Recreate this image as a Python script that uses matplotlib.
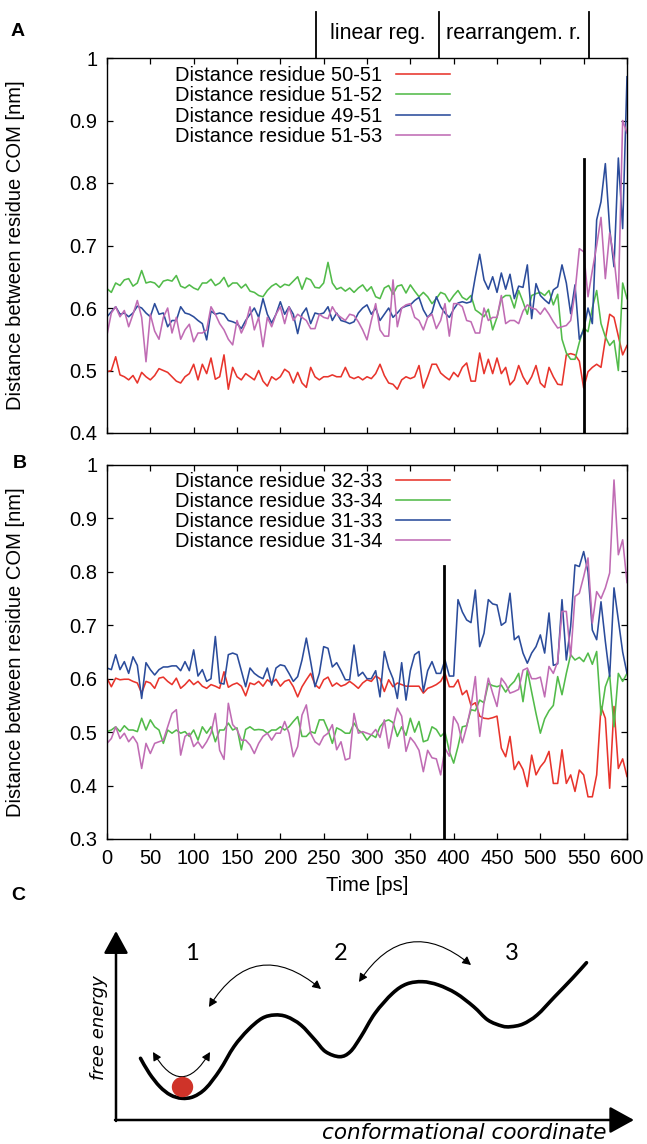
import numpy as np
import matplotlib
matplotlib.use("Agg")
import matplotlib.pyplot as plt
from matplotlib.patches import FancyArrowPatch, Ellipse, PathPatch
from matplotlib.path import Path

plt.rcParams['font.family'] = ['Liberation Sans', 'DejaVu Sans']

# ---------------- data ----------------
time_ps = np.arange(0, 601, 5)

labels_a = ["Distance residue 50-51", "Distance residue 51-52",
            "Distance residue 49-51", "Distance residue 51-53"]
labels_b = ["Distance residue 32-33", "Distance residue 33-34",
            "Distance residue 31-33", "Distance residue 31-34"]

a_50_51 = [0.498,0.50,0.522,0.493,0.49,0.485,0.492,0.48,0.497,0.49,
           0.485,0.492,0.503,0.50,0.497,0.49,0.483,0.48,0.49,0.495,
           0.51,0.485,0.51,0.495,0.52,0.486,0.49,0.525,0.47,0.505,
           0.49,0.485,0.495,0.49,0.485,0.50,0.483,0.475,0.49,0.485,
           0.49,0.502,0.497,0.48,0.497,0.48,0.473,0.505,0.49,0.485,
           0.49,0.49,0.493,0.49,0.49,0.505,0.49,0.487,0.49,0.485,
           0.49,
           0.487,0.495,0.51,0.492,0.48,0.478,0.47,0.485,0.49,0.487,
           0.49,0.508,0.472,0.49,0.51,0.51,0.496,0.49,0.485,0.497,
           0.49,0.505,0.512,0.483,0.483,0.528,0.495,0.518,0.495,0.52,
           0.495,0.505,0.477,0.485,0.508,0.49,0.478,0.49,0.508,0.48,
           0.473,0.505,0.49,0.478,0.477,0.525,0.527,0.525,0.515,0.472,
           0.498,0.505,0.51,0.505,0.55,0.59,0.585,0.555,0.525,0.54]
a_51_52 = [0.631,0.625,0.64,0.636,0.645,0.647,0.635,0.64,0.66,0.64,
           0.642,0.64,0.633,0.643,0.645,0.643,0.652,0.635,0.632,0.637,
           0.632,0.629,0.64,0.64,0.646,0.636,0.64,0.649,0.634,0.64,
           0.64,0.632,0.638,0.627,0.625,0.62,0.618,0.628,0.635,0.639,
           0.633,0.638,0.636,0.643,0.65,0.63,0.648,0.645,0.633,0.632,
           0.64,0.673,0.64,0.63,0.633,0.627,0.632,0.625,0.632,0.637,
           0.627,
           0.634,0.618,0.615,0.632,0.636,0.622,0.635,0.637,0.624,0.637,
           0.627,0.618,0.625,0.618,0.607,0.615,0.625,0.622,0.61,0.62,
           0.628,0.617,0.613,0.62,0.597,0.592,0.586,0.598,0.565,0.585,
           0.615,0.62,0.62,0.6,0.628,0.61,0.59,0.62,0.623,0.625,
           0.62,0.628,0.605,0.622,0.55,0.528,0.518,0.518,0.545,0.568,
           0.562,0.6,0.628,0.575,0.554,0.54,0.548,0.5,0.64,0.615]
a_49_51 = [0.586,0.594,0.602,0.59,0.592,0.586,0.592,0.603,0.6,0.592,
           0.586,0.607,0.59,0.592,0.57,0.58,0.58,0.602,0.592,0.59,
           0.586,0.58,0.575,0.549,0.595,0.59,0.592,0.59,0.58,0.578,
           0.575,0.567,0.58,0.59,0.6,0.585,0.615,0.59,0.576,0.59,
           0.61,0.59,0.602,0.59,0.559,0.59,0.6,0.575,0.592,0.59,
           0.592,0.602,0.58,0.592,0.58,0.578,0.575,0.578,0.592,0.6,
           0.605,
           0.59,0.60,0.58,0.59,0.60,0.585,0.592,0.60,0.603,0.605,
           0.612,0.617,0.597,0.585,0.593,0.618,0.602,0.592,0.585,0.598,
           0.608,0.61,0.608,0.61,0.65,0.686,0.645,0.63,0.65,0.625,
           0.656,0.63,0.654,0.615,0.635,0.633,0.669,0.583,0.639,0.62,
           0.613,0.607,0.629,0.634,0.669,0.64,0.591,0.637,0.55,0.565,
           0.6,0.575,0.741,0.77,0.831,0.727,0.666,0.84,0.727,0.97]
a_51_53 = [0.557,0.592,0.602,0.586,0.596,0.57,0.59,0.612,0.585,0.514,
           0.59,0.563,0.55,0.585,0.6,0.56,0.585,0.55,0.565,0.574,
           0.546,0.56,0.56,0.565,0.602,0.59,0.575,0.565,0.55,0.541,
           0.58,0.56,0.575,0.602,0.565,0.585,0.538,0.585,0.57,0.59,
           0.602,0.575,0.602,0.58,0.59,0.585,0.58,0.567,0.567,0.59,
           0.585,0.583,0.602,0.59,0.585,0.58,0.59,0.588,0.578,0.565,
           0.549,
           0.58,0.607,0.565,0.555,0.555,0.645,0.57,0.6,0.605,0.607,
           0.585,0.58,0.565,0.585,0.59,0.567,0.58,0.607,0.555,0.607,
           0.607,0.602,0.58,0.578,0.56,0.56,0.6,0.58,0.585,0.585,
           0.62,0.575,0.58,0.58,0.575,0.595,0.605,0.6,0.598,0.59,
           0.6,0.59,0.578,0.568,0.57,0.572,0.58,0.625,0.695,0.69,
           0.618,0.66,0.7,0.745,0.647,0.72,0.68,0.615,0.9,0.88]

b_32_33 = [0.601,0.585,0.601,0.598,0.599,0.599,0.595,0.592,0.573,0.595,
           0.592,0.582,0.601,0.603,0.595,0.589,0.601,0.582,0.589,0.598,
           0.589,0.595,0.586,0.582,0.589,0.586,0.582,0.613,0.584,0.589,
           0.592,0.586,0.568,0.592,0.589,0.595,0.586,0.598,0.592,0.599,
           0.586,0.595,0.598,0.585,0.566,0.585,0.598,0.61,0.589,0.582,
           0.598,0.603,0.586,0.592,0.586,0.589,0.595,0.589,0.582,0.592,
           0.598,
           0.595,0.605,0.6,0.576,0.598,0.585,0.592,0.589,0.586,0.586,
           0.586,0.586,0.573,0.582,0.585,0.589,0.595,0.61,0.585,0.585,
           0.598,0.57,0.578,0.55,0.555,0.53,0.526,0.525,0.527,0.53,
           0.47,0.454,0.492,0.43,0.445,0.43,0.398,0.457,0.42,0.435,
           0.445,0.464,0.404,0.404,0.467,0.404,0.42,0.389,0.429,0.42,
           0.379,0.379,0.42,0.548,0.526,0.395,0.548,0.432,0.45,0.417]
b_33_34 = [0.501,0.504,0.51,0.501,0.512,0.504,0.504,0.501,0.526,0.504,
           0.523,0.51,0.504,0.479,0.504,0.498,0.504,0.498,0.501,0.492,
           0.504,0.485,0.51,0.498,0.51,0.482,0.504,0.504,0.517,0.504,
           0.508,0.467,0.505,0.51,0.504,0.505,0.504,0.498,0.504,0.504,
           0.51,0.504,0.51,0.52,0.529,0.492,0.492,0.501,0.498,0.523,
           0.523,0.504,0.479,0.508,0.504,0.498,0.498,0.517,0.504,0.498,
           0.485,
           0.495,0.49,0.51,0.52,0.523,0.518,0.492,0.51,0.494,0.526,
           0.5,0.52,0.482,0.485,0.51,0.505,0.492,0.5,0.464,0.442,
           0.473,0.51,0.512,0.542,0.54,0.56,0.555,0.591,0.587,0.585,
           0.588,0.575,0.587,0.595,0.61,0.557,0.616,0.575,0.535,0.498,
           0.525,0.54,0.55,0.604,0.57,0.61,0.645,0.635,0.64,0.632,
           0.648,0.627,0.651,0.532,0.585,0.607,0.51,0.61,0.595,0.61]
b_31_33 = [0.62,0.617,0.645,0.617,0.632,0.61,0.641,0.625,0.563,0.63,
           0.617,0.607,0.617,0.622,0.622,0.624,0.624,0.615,0.632,0.615,
           0.654,0.605,0.617,0.595,0.6,0.679,0.592,0.59,0.645,0.648,
           0.645,0.615,0.585,0.62,0.61,0.604,0.6,0.62,0.588,0.62,
           0.626,0.624,0.61,0.595,0.604,0.635,0.676,0.632,0.585,0.61,
           0.66,0.657,0.622,0.63,0.615,0.598,0.598,0.663,0.605,0.612,
           0.6,
           0.6,0.615,0.566,0.651,0.62,0.6,0.563,0.63,0.56,0.615,
           0.645,0.651,0.576,0.615,0.632,0.61,0.61,0.635,0.605,0.605,
           0.748,0.725,0.71,0.705,0.766,0.66,0.685,0.748,0.74,0.738,
           0.7,0.706,0.76,0.673,0.68,0.648,0.629,0.648,0.66,0.682,
           0.648,0.723,0.625,0.628,0.748,0.635,0.698,0.813,0.81,0.838,
           0.8,0.691,0.673,0.744,0.67,0.604,0.77,0.71,0.65,0.61]
b_31_34 = [0.479,0.488,0.51,0.488,0.498,0.482,0.492,0.479,0.432,0.479,
           0.46,0.479,0.482,0.485,0.51,0.535,0.542,0.457,0.492,0.498,
           0.473,0.482,0.47,0.482,0.498,0.535,0.466,0.449,0.554,0.514,
           0.505,0.485,0.485,0.476,0.46,0.479,0.492,0.498,0.485,0.498,
           0.498,0.52,0.498,0.454,0.473,0.532,0.551,0.498,0.482,0.476,
           0.492,0.498,0.514,0.467,0.482,0.448,0.451,0.535,0.498,0.501,
           0.498,
           0.495,0.505,0.49,0.523,0.47,0.51,0.545,0.53,0.464,0.49,
           0.48,0.466,0.426,0.466,0.452,0.45,0.42,0.47,0.455,0.529,
           0.515,0.48,0.51,0.548,0.604,0.492,0.555,0.601,0.573,0.548,
           0.601,0.59,0.573,0.576,0.58,0.616,0.62,0.6,0.6,0.603,
           0.566,0.623,0.61,0.632,0.726,0.726,0.641,0.754,0.76,0.791,
           0.826,0.704,0.763,0.75,0.77,0.798,0.972,0.832,0.86,0.78]

series_colors = ["#e8342c", "#52bb4a", "#2b4c9b", "#c06cb4"]

# region markers (ps)
region_bounds_a = [241, 383, 556]
region_labels_a = ["linear reg.", "rearrangem. r."]
event_line_a = (550, 0.838)
event_line_b = (389, 0.811)

# panel C schematic (reference pixel frame)
land_x = [140.5,149.3,159.9,170.5,181.8,193.4,205.8,219.9,233.9,248,262.1,274.5,
          286.8,300.9,315,325.6,339.7,350.3,360.9,375,392.6,406.7,422.5,438.4,
          456,473.7,487.8,501.9,510.6,523,537.1,554.7,572.4,586.5]
land_y = [1058.3,1073.3,1086.7,1095,1098.3,1096.7,1088.3,1070,1046.7,1030,1018.3,1015,
          1016.7,1025,1040,1051.7,1056.7,1051.7,1036.7,1013.3,993.3,984,981.7,985,
          993.3,1006.7,1020,1026,1026.7,1024,1015,996.7,978.3,962.7]
state_labels = ["1", "2", "3"]
state_x = [192, 341, 512]
state_y = [954, 954, 954]

# ---------------- figure ----------------
W, H = 647, 1144
fig = plt.figure(figsize=(W/100, H/100), dpi=100)

def px_axes(left, top, right, bottom):
    return fig.add_axes([left/W, 1-bottom/H, (right-left)/W, (bottom-top)/H])

FS = 14.5

def style_axes(ax, ylo, yhi, show_xlabels):
    ax.set_xlim(0, 600)
    ax.set_ylim(ylo, yhi)
    ax.set_xticks(np.arange(0, 601, 50))
    yt = np.round(np.arange(ylo, yhi + 1e-9, 0.1), 1)
    ax.set_yticks(yt)
    ax.set_yticklabels([("%g" % v) for v in yt])
    ax.tick_params(direction='in', length=4.5, width=0.9, top=True, right=True,
                   labelsize=FS, pad=7)
    if not show_xlabels:
        ax.tick_params(labelbottom=False)
    for s in ax.spines.values():
        s.set_linewidth(1.0)
    ax.set_ylabel("Distance between residue COM [nm]", fontsize=FS)
    ax.yaxis.set_label_coords((25-107)/520, 0.5)

axA = px_axes(107, 58, 627, 433)
axB = px_axes(107, 465, 627, 839)

for ax, data, labels in [(axA, [a_50_51, a_51_52, a_49_51, a_51_53], labels_a),
                         (axB, [b_32_33, b_33_34, b_31_33, b_31_34], labels_b)]:
    for vals, c, lab in zip(data, series_colors, labels):
        ax.plot(time_ps, vals, color=c, lw=1.15, label=lab)

style_axes(axA, 0.4, 1.0, False)
style_axes(axB, 0.3, 1.0, True)
axB.set_xlabel("Time [ps]", fontsize=FS)
axB.xaxis.set_label_coords(0.5, (839-876)/374)

for ax, ytop in ((axA, 0.978), (axB, 0.982)):
    ax.legend(loc='upper right', bbox_to_anchor=((450-107)/520, ytop),
              frameon=False, markerfirst=False, fontsize=FS,
              handlelength=2.7, handletextpad=0.65, labelspacing=0.06,
              borderpad=0, borderaxespad=0)

# event lines
axA.plot([event_line_a[0]]*2, [0.4, event_line_a[1]], color='black', lw=2.0)
axB.plot([event_line_b[0]]*2, [0.3, event_line_b[1]], color='black', lw=2.0)

# region header for A
for xb in region_bounds_a:
    axA.plot([xb, xb], [1.0, 1.0736], color='black', lw=1.3, clip_on=False)
for i, lab in enumerate(region_labels_a):
    xc = 0.5*(region_bounds_a[i] + region_bounds_a[i+1])
    axA.text(xc, 1.040, lab, ha='center', va='center', fontsize=15.5, clip_on=False)

# panel letters
for letter, (x, y) in zip("ABC", [(18, 32), (20, 464), (18, 896)]):
    fig.text(x/W, 1-y/H, letter, fontsize=14, fontweight='bold', ha='center', va='center')

# ---------------- panel C ----------------
axC = fig.add_axes([0, 0, 1, (H-900)/H])
axC.set_xlim(0, W)
axC.set_ylim(H, 900)
axC.axis('off')

axC.annotate('', xy=(116, 931), xytext=(116, 1121),
             arrowprops=dict(arrowstyle='-|>,head_length=0.55,head_width=0.3',
                             mutation_scale=25, lw=1.8, color='black',
                             shrinkA=0, shrinkB=0))
axC.annotate('', xy=(634, 1120), xytext=(115, 1120),
             arrowprops=dict(arrowstyle='-|>,head_length=0.6,head_width=0.33',
                             mutation_scale=25, lw=1.8, color='black',
                             shrinkA=0, shrinkB=0))

# smooth landscape: Catmull-Rom through the read points, drawn as a Bezier path
P = np.column_stack([land_x, land_y])
verts = [P[0]]
codes = [Path.MOVETO]
for i in range(len(P) - 1):
    p0 = P[i-1] if i > 0 else P[i]
    p1, p2 = P[i], P[i+1]
    p3 = P[i+2] if i + 2 < len(P) else P[i+1]
    c1 = p1 + (p2 - p0) / 6.0
    c2 = p2 - (p3 - p1) / 6.0
    verts += [c1, c2, p2]
    codes += [Path.CURVE4] * 3
axC.add_patch(PathPatch(Path(verts, codes), facecolor='none', edgecolor='black',
                        lw=2.6, capstyle='round'))
axC.add_patch(Ellipse((182.5, 1087), 20, 19, color='#cf3329', zorder=5))

for (p0, p1, rad) in [((153, 1052), (210, 1052), 0.85),
                      ((209, 1007), (321, 989), -0.57),
                      ((359, 982), (471, 965), -0.55)]:
    arr = FancyArrowPatch(p0, p1, connectionstyle="arc3,rad=%g" % rad,
                          arrowstyle='<|-|>,head_length=5,head_width=2.6',
                          lw=0.8, color='black', shrinkA=0, shrinkB=0)
    axC.add_patch(arr)

cfont = ['Lato', 'DejaVu Sans']
for lab, x, y in zip(state_labels, state_x, state_y):
    axC.text(x, y, lab, fontsize=17, ha='center', va='center', family=cfont)

axC.text(99, 1028, "free energy", rotation=90, ha='center', va='center',
         fontsize=13, style='italic', family=['DejaVu Sans'])
axC.text(607, 1133, "conformational coordinate", ha='right', va='center',
         fontsize=15.5, style='italic', family=['DejaVu Sans'])

fig.savefig("out.png", dpi=100)
